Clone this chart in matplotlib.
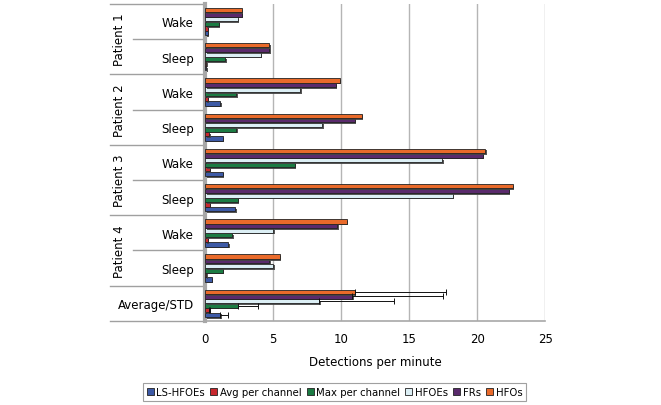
import numpy as np
import matplotlib
matplotlib.use("Agg")
from matplotlib import pyplot as plt
from matplotlib import patheffects as pe
from matplotlib.patches import Patch

# categories, top to bottom
cats = ["Wake", "Sleep", "Wake", "Sleep", "Wake", "Sleep", "Wake", "Sleep", "Average/STD"]
patients = ["Patient 1", "Patient 2", "Patient 3", "Patient 4"]

# series values (detections per minute)
ls_hfoes = [0.2, 0.1, 1.1, 1.3, 1.3, 2.2, 1.7, 0.5, 1.1]
avg_chan = [0.2, 0.1, 0.2, 0.3, 0.35, 0.35, 0.2, 0.1, 0.3]
max_chan = [1.0, 1.5, 2.3, 2.3, 6.6, 2.4, 2.0, 1.3, 2.4]
hfoes = [2.4, 4.1, 7.0, 8.6, 17.4, 18.2, 5.0, 5.0, 8.4]
frs = [2.7, 4.7, 9.6, 11.0, 20.4, 22.3, 9.7, 4.7, 10.8]
hfos = [2.7, 4.7, 9.9, 11.5, 20.6, 22.6, 10.4, 5.5, 11.0]

# std for the Average/STD row
std_ls = 0.6
std_avg = 0.1
std_max = 1.5
std_hfoes = 5.5
std_frs = 6.7
std_hfos = 6.7

names = ["LS-HFOEs", "Avg per channel", "Max per channel", "HFOEs", "FRs", "HFOs"]
series = [ls_hfoes, avg_chan, max_chan, hfoes, frs, hfos]
stds = [std_ls, std_avg, std_max, std_hfoes, std_frs, std_hfos]
colors = ["#3d5aa6", "#c8282e", "#1b7b43", "#dceff5", "#5a2a6c", "#e96a2a"]

fig = plt.figure(figsize=(6.61, 4.06), dpi=100)
ax = fig.add_axes([0.310, 0.207, 0.515, 0.781])

y = np.arange(len(cats))
h = 0.13
shadow = [pe.SimplePatchShadow(offset=(1.2, -1.2), shadow_rgbFace="#444444", alpha=0.9), pe.Normal()]

for k, (name, vals, c, s) in enumerate(zip(names, series, colors, stds)):
    off = (2.5 - k) * h
    bars = ax.barh(y + off, vals, height=h * 0.95, color=c, edgecolor="#222222",
                   linewidth=0.6, zorder=3)
    for b in bars:
        b.set_path_effects(shadow)
    ax.errorbar(vals[-1], y[-1] + off, xerr=[[0], [s]], fmt="none", ecolor="#111111",
                elinewidth=0.7, capsize=2, capthick=0.7, zorder=4)

ax.set_ylim(len(cats) - 0.5, -0.5)
ax.set_xlim(0, 25)
ax.set_xticks([0, 5, 10, 15, 20, 25])
ax.set_yticks(y)
ax.set_yticklabels(cats, fontsize=8.5)
ax.tick_params(axis="y", length=0, pad=8)
ax.tick_params(axis="x", length=0, pad=8, labelsize=8.5)
ax.grid(axis="x", color="#b5b5b5", linewidth=1, zorder=0)
for sp in ["top", "right"]:
    ax.spines[sp].set_visible(False)
ax.spines["left"].set_color("#a8a8a8")
ax.spines["left"].set_linewidth(3)
ax.spines["bottom"].set_color("#a8a8a8")
ax.spines["bottom"].set_linewidth(1.2)

# category group separators and patient labels
tr = ax.get_yaxis_transform()
for yy in [-0.5, 1.5, 3.5, 5.5, 7.5, 8.5]:
    ax.plot([-0.28, 0], [yy, yy], color="#a0a0a0", lw=1, transform=tr, clip_on=False)
for yy in [0.5, 2.5, 4.5, 6.5]:
    ax.plot([-0.21, 0], [yy, yy], color="#a0a0a0", lw=1, transform=tr, clip_on=False)
for i, p in enumerate(patients):
    ax.text(-0.25, 2 * i + 0.5, p, rotation=90, ha="center", va="center",
            fontsize=8.5, transform=tr)

ax.set_xlabel("Detections per minute", fontsize=8.5, labelpad=7)

handles = [Patch(facecolor=c, edgecolor="#222222", linewidth=0.6) for c in colors]
leg = fig.legend(handles, names, loc="center", bbox_to_anchor=(334.5 / 661, 1 - 393 / 406),
                 ncol=6, fontsize=7.3, frameon=True, fancybox=False, edgecolor="#888888",
                 handlelength=0.7, handleheight=0.7, handletextpad=0.25, columnspacing=0.5,
                 borderpad=0.35)
leg.get_frame().set_linewidth(0.8)

fig.savefig("out.png", dpi=100)
